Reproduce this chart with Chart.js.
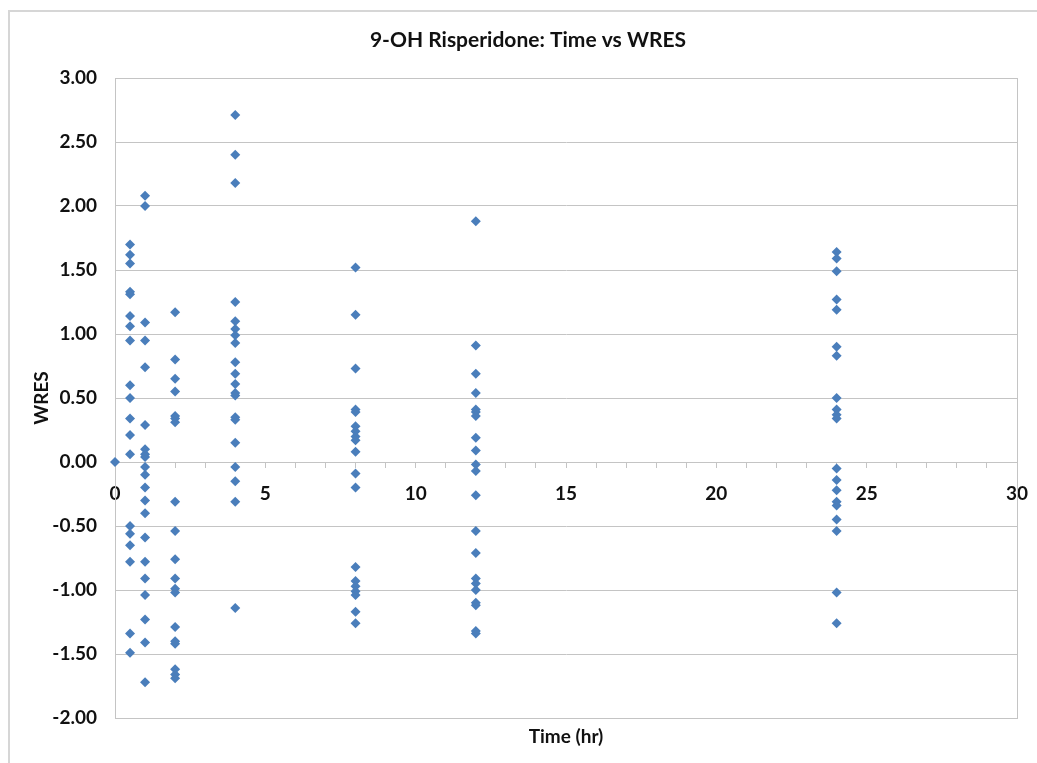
<!DOCTYPE html>
<html>
<head>
<meta charset="utf-8">
<script src="https://cdn.jsdelivr.net/npm/chart.js@4.4.1/dist/chart.umd.min.js"></script>
<style>
  html, body { margin: 0; padding: 0; background: #ffffff; }
  #wrap { width: 1037px; height: 763px; position: relative; }
</style>
</head>
<body>
<div id="wrap"><canvas id="chart" width="1037" height="763"></canvas></div>
<script>
// Sampling times (hr) and the weighted residuals observed at each time
const sampleTimes = [0, 0.5, 1, 2, 4, 8, 12, 24];
const wresAt0h = [0.00];
const wresAt05h = [1.70, 1.62, 1.55, 1.33, 1.31, 1.14, 1.06, 0.95, 0.60, 0.50, 0.34, 0.21, 0.06,
  -0.50, -0.56, -0.65, -0.78, -1.34, -1.49];
const wresAt1h = [2.08, 2.00, 1.09, 0.95, 0.74, 0.29, 0.10, 0.06, 0.04, -0.04, -0.10, -0.20, -0.30,
  -0.40, -0.59, -0.78, -0.91, -1.04, -1.23, -1.41, -1.72];
const wresAt2h = [1.17, 0.80, 0.65, 0.55, 0.36, 0.34, 0.31, -0.31, -0.54, -0.76, -0.91, -0.99, -1.02,
  -1.29, -1.40, -1.42, -1.62, -1.66, -1.69];
const wresAt4h = [2.71, 2.40, 2.18, 1.25, 1.10, 1.04, 0.99, 0.93, 0.78, 0.69, 0.61, 0.54, 0.52, 0.35,
  0.33, 0.15, -0.04, -0.15, -0.31, -1.14];
const wresAt8h = [1.52, 1.15, 0.73, 0.41, 0.39, 0.28, 0.24, 0.20, 0.17, 0.08, -0.09, -0.20, -0.82,
  -0.93, -0.97, -1.01, -1.04, -1.17, -1.26];
const wresAt12h = [1.88, 0.91, 0.69, 0.54, 0.41, 0.39, 0.36, 0.19, 0.09, -0.02, -0.07, -0.26, -0.54,
  -0.71, -0.91, -0.95, -1.00, -1.10, -1.12, -1.32, -1.34];
const wresAt24h = [1.64, 1.59, 1.49, 1.27, 1.19, 0.90, 0.83, 0.50, 0.41, 0.37, 0.34, -0.05, -0.14,
  -0.22, -0.31, -0.34, -0.45, -0.54, -1.02, -1.26];

const wresByTime = [wresAt0h, wresAt05h, wresAt1h, wresAt2h, wresAt4h, wresAt8h, wresAt12h, wresAt24h];

// Axis ranges and labelled tick steps
const xMin = 0, xMax = 30, xLabelStep = 5;
const yMin = -2, yMax = 3, yStep = 0.5;

const points = [];
sampleTimes.forEach((t, i) => {
  wresByTime[i].forEach(v => points.push({ x: t, y: v }));
});

const FONT = 'Lato, "Open Sans", "Liberation Sans", sans-serif';
const GRID = '#c4c4c4';
const TEXT = '#111111';

// Frames around the plot area and the chart panel
const frames = {
  id: 'frames',
  beforeDraw(chart) {
    const ctx = chart.ctx;
    ctx.save();
    ctx.strokeStyle = '#d6d6d6';
    ctx.lineWidth = 2;
    ctx.beginPath();
    ctx.moveTo(9, chart.height);
    ctx.lineTo(9, 11);
    ctx.lineTo(chart.width, 11);
    ctx.stroke();
    ctx.restore();
  },
  beforeDatasetsDraw(chart) {
    const a = chart.chartArea;
    const ctx = chart.ctx;
    ctx.save();
    ctx.strokeStyle = GRID;
    ctx.lineWidth = 1;
    ctx.strokeRect(Math.round(a.left) + 0.5, Math.round(a.top) + 0.5,
      Math.round(a.right - a.left), Math.round(a.bottom - a.top));
    ctx.restore();
  }
};

new Chart(document.getElementById('chart'), {
  type: 'scatter',
  data: {
    datasets: [{
      label: 'WRES',
      data: points,
      pointStyle: 'rectRot',
      pointRadius: 5,
      pointHoverRadius: 5,
      backgroundColor: '#4a7ebb',
      borderColor: '#4a7ebb',
      borderWidth: 0,
      clip: false
    }]
  },
  options: {
    responsive: false,
    animation: false,
    events: [],
    layout: { padding: { left: 39, right: 20, top: 0, bottom: 0 } },
    plugins: {
      legend: { display: false },
      tooltip: { enabled: false },
      title: {
        display: true,
        text: '9-OH Risperidone: Time vs WRES',
        color: TEXT,
        font: { family: FONT, size: 21, weight: 'bold', lineHeight: 1.2 },
        padding: { top: 27.4, bottom: 25.4 }
      }
    },
    scales: {
      x: {
        type: 'linear',
        position: { y: 0 },
        min: xMin,
        max: xMax,
        afterFit: s => { s.paddingLeft = 0; s.paddingRight = 0; },
        border: { display: true, color: GRID, width: 1 },
        grid: { drawOnChartArea: false, drawTicks: true, tickLength: 5, color: GRID },
        ticks: {
          stepSize: 1,
          autoSkip: false,
          maxRotation: 0,
          padding: 15,
          color: TEXT,
          font: { family: FONT, size: 19, weight: 'bold' },
          callback: v => (v % xLabelStep === 0 ? String(v) : '')
        }
      },
      // bottom axis that only carries the time title
      xTitle: {
        type: 'linear',
        position: 'bottom',
        min: xMin,
        max: xMax,
        border: { display: false },
        grid: { display: false, drawTicks: false },
        ticks: { display: false },
        title: {
          display: true,
          text: 'Time (hr)',
          color: TEXT,
          font: { family: FONT, size: 19, weight: 'bold', lineHeight: 1.2 },
          padding: { top: 7.6, bottom: 14.6 }
        }
      },
      y: {
        type: 'linear',
        position: 'left',
        min: yMin,
        max: yMax,
        afterFit: s => { s.width = 76; },
        border: { display: true, color: GRID, width: 1 },
        grid: { color: GRID, lineWidth: 1, drawTicks: false },
        ticks: {
          stepSize: yStep,
          padding: 18,
          color: TEXT,
          font: { family: FONT, size: 19, weight: 'bold' },
          callback: v => Number(v).toFixed(2)
        },
        title: {
          display: true,
          text: 'WRES',
          color: TEXT,
          font: { family: FONT, size: 19, weight: 'bold', lineHeight: 1.2 },
          padding: { top: -8.4, bottom: 0 }
        }
      }
    }
  },
  plugins: [frames]
});
</script>
</body>
</html>
